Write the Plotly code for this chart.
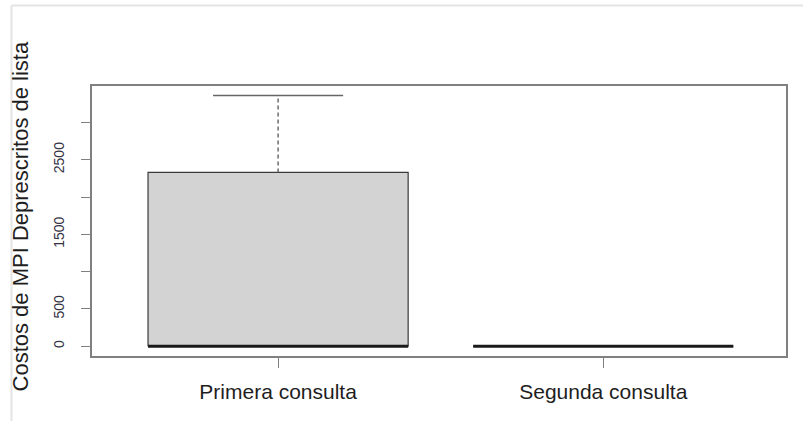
import plotly.graph_objects as go

# Five-number summaries of the two consultation groups
categories = ["Primera consulta", "Segunda consulta"]
positions = [1, 2]
minimum = [0, 0]
q1 = [0, 0]
median = [0, 0]
q3 = [2330, 0]
maximum = [3360, 0]

y_tickvals = [0, 500, 1000, 1500, 2000, 2500, 3000]
y_ticktext = ["0", "500", "", "1500", "", "2500", ""]

box_half = 0.4      # box spans 0.8 units around its position
cap_half = 0.2      # whisker staples are half the box width

fig = go.Figure()

for pos, lo, a, m, b, hi in zip(positions, minimum, q1, median, q3, maximum):
    # box body
    fig.add_trace(go.Scatter(
        x=[pos - box_half, pos + box_half, pos + box_half, pos - box_half, pos - box_half],
        y=[a, a, b, b, a],
        mode="lines", fill="toself", fillcolor="#d3d3d3",
        line=dict(color="#3a3a3a", width=1.2), hoverinfo="skip", showlegend=False))
    # dashed whiskers and staples
    for end, edge in ((hi, b), (lo, a)):
        if end != edge:
            fig.add_trace(go.Scatter(
                x=[pos, pos], y=[edge, end], mode="lines",
                line=dict(color="#555555", width=1.3, dash="4px,3px"),
                hoverinfo="skip", showlegend=False))
            fig.add_trace(go.Scatter(
                x=[pos - cap_half, pos + cap_half], y=[end, end], mode="lines",
                line=dict(color="#666666", width=1.5),
                hoverinfo="skip", showlegend=False))
    # median
    fig.add_trace(go.Scatter(
        x=[pos - box_half, pos + box_half], y=[m, m], mode="lines",
        line=dict(color="#1a1a1a", width=3.2), hoverinfo="skip", showlegend=False))

fig.update_layout(
    width=803, height=421,
    margin=dict(l=92, r=17, t=86, b=65),
    paper_bgcolor="white", plot_bgcolor="white",
    font=dict(family="Liberation Sans, Arial, sans-serif", color="#222222"),
    showlegend=False,
)

fig.update_xaxes(
    range=[0.4277, 2.562], tickvals=positions, ticktext=categories,
    showgrid=False, zeroline=False, showline=True, mirror=True,
    linecolor="#808080", linewidth=1.5,
    ticks="outside", ticklen=10, tickcolor="#808080", tickwidth=1.3,
    tickfont=dict(size=21, color="#1e1e1e"), ticklabelstandoff=6,
)
fig.update_yaxes(
    range=[-131, 3488], tickvals=y_tickvals, ticktext=y_ticktext,
    showgrid=False, zeroline=False, showline=True, mirror=True,
    linecolor="#808080", linewidth=1.5,
    ticks="outside", ticklen=9, tickcolor="#808080", tickwidth=1.3,
    tickangle=-90, tickfont=dict(size=14, color="#333344"), ticklabelstandoff=12,
)

fig.add_annotation(
    text="Costos de MPI Deprescritos de lista",
    xref="paper", yref="paper", x=-0.103, y=0.515,
    xanchor="center", yanchor="middle", textangle=-90, showarrow=False,
    font=dict(size=22, color="#1e1e1e"),
)

# thin light border along the top and left edges of the page
fig.add_shape(type="line", xref="paper", yref="paper",
              x0=-0.116, x1=1.03, y0=1.298, y1=1.298,
              line=dict(color="#e4e4e4", width=2))
fig.add_shape(type="line", xref="paper", yref="paper",
              x0=-0.116, x1=-0.116, y0=-0.25, y1=1.298,
              line=dict(color="#e4e4e4", width=2))

fig.write_html("out.html")
